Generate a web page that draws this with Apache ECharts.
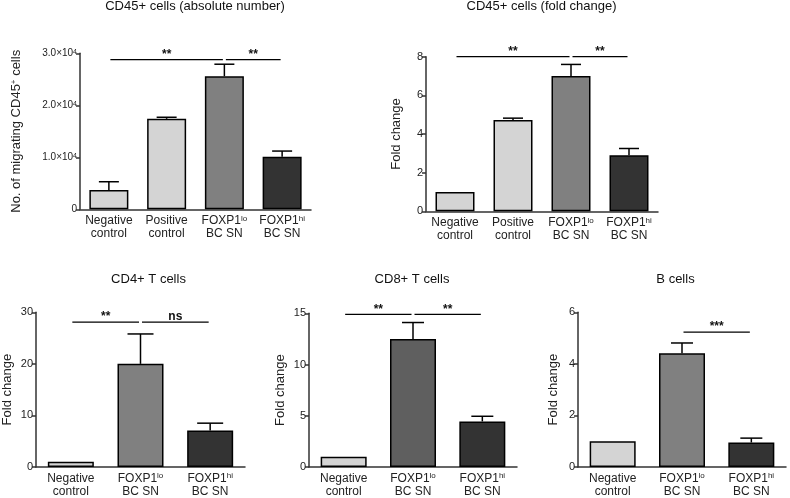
<!DOCTYPE html>
<html>
<head>
<meta charset="utf-8">
<script src="https://cdn.jsdelivr.net/npm/echarts@6/dist/echarts.min.js"></script>
<style>
html,body{margin:0;padding:0;background:#fff;}
#chart{width:790px;height:498px;}
</style>
</head>
<body>
<div id="chart"></div>
<script>
// ---------- data ----------
const cats4 = ['Negative\ncontrol', 'Positive\ncontrol', 'FOXP1{sup|lo}\nBC SN', 'FOXP1{sup|hi}\nBC SN'];
const cats3 = ['Negative\ncontrol', 'FOXP1{sup|lo}\nBC SN', 'FOXP1{sup|hi}\nBC SN'];

const cd45AbsMean = [3700, 17400, 25600, 10100];
const cd45AbsErr  = [1600, 300, 2300, 1100];
const cd45AbsTicks = ['0', '1.0×10{sup|4}', '2.0×10{sup|4}', '3.0×10{sup|4}'];

const cd45FoldMean = [1.0, 4.72, 7.0, 2.9];
const cd45FoldErr  = [0, 0.1, 0.6, 0.35];

const cd4Mean = [1.0, 20.0, 7.1];
const cd4Err  = [0, 5.8, 1.4];

const cd8Mean = [1.0, 12.5, 4.45];
const cd8Err  = [0, 1.6, 0.5];

const bMean = [1.0, 4.41, 0.95];
const bErr  = [0, 0.4, 0.17];

// significance: [fromIndex, toIndex, yValue, label]
const sigAbs  = [[0, 2, 28800, '**'], [2, 3, 28800, '**']];
const sigFold = [[0, 2, 8.0, '**'], [2, 3, 8.0, '**']];
const sigCd4  = [[0, 1, 28.1, '**'], [1, 2, 28.1, 'ns']];
const sigCd8  = [[0, 1, 14.9, '**'], [1, 2, 14.9, '**']];
const sigB    = [[1, 2, 5.23, '***']];

const titles = ['CD45+ cells (absolute number)', 'CD45+ cells (fold change)', 'CD4+ T cells', 'CD8+ T cells', 'B cells'];

// ---------- styling ----------
const FONT = '"Liberation Sans", Arial, sans-serif';
const LIGHT = '#d4d4d4', MID = '#808080', MIDDARK = '#5f5f5f', DARK = '#333333';
const colors4 = [LIGHT, LIGHT, MID, DARK];
const colors3 = [LIGHT, MID, DARK];
const colors3b = [LIGHT, MIDDARK, DARK];

const grids = [
  {left: 80, top: 53.3, width: 231, height: 156},
  {left: 426, top: 56.7, width: 232, height: 154.6},
  {left: 35, top: 312.3, width: 210, height: 155},
  {left: 309, top: 313.3, width: 208, height: 155},
  {left: 578, top: 312.3, width: 208, height: 155}
];
const titleCenters = [[195, 0], [541.5, 0], [148.5, 273], [412, 273], [675.5, 273]];

function supStyle(size, raise) {
  return {sup: {fontSize: size, fontFamily: FONT, color: '#222', verticalAlign: 'top', lineHeight: size, padding: [0, 0, raise, 0]}};
}

function xAxis(gi, cats) {
  return {
    type: 'category', gridIndex: gi, data: cats,
    axisLine: {lineStyle: {color: '#333', width: 1.5}},
    axisTick: {alignWithLabel: true, length: 3, lineStyle: {color: '#333', width: 1}},
    axisLabel: {
      interval: 0, margin: 5, fontSize: 12, lineHeight: 13, color: '#222', fontFamily: FONT,
      formatter: v => v, rich: supStyle(8, 7)
    }
  };
}
function yAxis(gi, max, interval, name, gap, fmt) {
  return {
    type: 'value', gridIndex: gi, min: 0, max: max, interval: interval,
    name: name, nameLocation: 'middle', nameGap: gap, nameRotate: 90,
    nameTextStyle: {fontSize: 13, color: '#222', fontFamily: FONT, rich: supStyle(8, 7)},
    splitLine: {show: false},
    axisLine: {show: true, lineStyle: {color: '#333', width: 1.5}},
    axisTick: {show: true, length: 4, lineStyle: {color: '#333', width: 1.5}},
    axisLabel: {fontSize: fmt ? 10 : 11, margin: 3, color: '#222', fontFamily: FONT, formatter: fmt, rich: supStyle(7, 5)}
  };
}

function barSeries(gi, means, cols, bw) {
  return {
    type: 'bar', xAxisIndex: gi, yAxisIndex: gi, barWidth: bw,
    data: means.map((v, i) => ({value: v, itemStyle: {color: cols[i], borderColor: '#000', borderWidth: 1.5}})),
    z: 2, silent: true
  };
}
function errSeries(gi, means, errs, capHalf) {
  return {
    type: 'custom', xAxisIndex: gi, yAxisIndex: gi, z: 3, silent: true,
    data: means.map((m, i) => [i, m, errs[i]]),
    encode: {x: 0, y: 1},
    renderItem: function (params, api) {
      const idx = api.value(0), m = api.value(1), e = api.value(2);
      if (!(e > 0)) return null;
      const p0 = api.coord([idx, m]);
      const p1 = api.coord([idx, m + e]);
      const st = {stroke: '#000', lineWidth: 1.5};
      return {
        type: 'group',
        children: [
          {type: 'line', shape: {x1: p0[0], y1: p0[1], x2: p1[0], y2: p1[1]}, style: st},
          {type: 'line', shape: {x1: p1[0] - capHalf, y1: p1[1], x2: p1[0] + capHalf, y2: p1[1]}, style: st}
        ]
      };
    }
  };
}
function sigSeries(gi, sig) {
  return {
    type: 'custom', xAxisIndex: gi, yAxisIndex: gi, z: 4, silent: true, clip: false,
    data: sig.map(s => [s[0], s[1], s[2]]),
    encode: {x: 0, y: 2},
    renderItem: function (params, api) {
      const a = api.coord([api.value(0), api.value(2)]);
      const b = api.coord([api.value(1), api.value(2)]);
      const label = sig[params.dataIndex][3];
      return {
        type: 'group',
        children: [
          {type: 'line', shape: {x1: a[0] + 1.5, y1: a[1], x2: b[0] - 1.5, y2: b[1]}, style: {stroke: '#000', lineWidth: 1.2}},
          {type: 'text', style: {text: label, x: (a[0] + b[0]) / 2, y: a[1] + 1, align: 'center', verticalAlign: 'bottom',
            fontSize: 12, fontWeight: 'bold', fontFamily: FONT, fill: '#111'}}
        ]
      };
    }
  };
}

const chart = echarts.init(document.getElementById('chart'), null, {renderer: 'canvas'});
chart.setOption({
  backgroundColor: '#fff',
  animation: false,
  title: titles.map((t, i) => ({
    text: t, left: titleCenters[i][0], top: titleCenters[i][1], textAlign: 'center', padding: 0,
    textStyle: {fontSize: 13, fontWeight: 'normal', color: '#111', fontFamily: FONT}
  })),
  grid: grids,
  xAxis: [xAxis(0, cats4), xAxis(1, cats4), xAxis(2, cats3), xAxis(3, cats3), xAxis(4, cats3)],
  yAxis: [
    yAxis(0, 30000, 10000, 'No. of migrating CD45{sup|+} cells', 57, (v, i) => cd45AbsTicks[i]),
    yAxis(1, 8, 2, 'Fold change', 23),
    yAxis(2, 30, 10, 'Fold change', 22),
    yAxis(3, 15, 5, 'Fold change', 22),
    yAxis(4, 6, 2, 'Fold change', 18)
  ],
  series: [
    barSeries(0, cd45AbsMean, colors4, 39), errSeries(0, cd45AbsMean, cd45AbsErr, 10), sigSeries(0, sigAbs),
    barSeries(1, cd45FoldMean, colors4, 39), errSeries(1, cd45FoldMean, cd45FoldErr, 10), sigSeries(1, sigFold),
    barSeries(2, cd4Mean, colors3, 46), errSeries(2, cd4Mean, cd4Err, 13), sigSeries(2, sigCd4),
    barSeries(3, cd8Mean, colors3b, 46), errSeries(3, cd8Mean, cd8Err, 11), sigSeries(3, sigCd8),
    barSeries(4, bMean, colors3, 46), errSeries(4, bMean, bErr, 11), sigSeries(4, sigB)
  ]
});
</script>
</body>
</html>
